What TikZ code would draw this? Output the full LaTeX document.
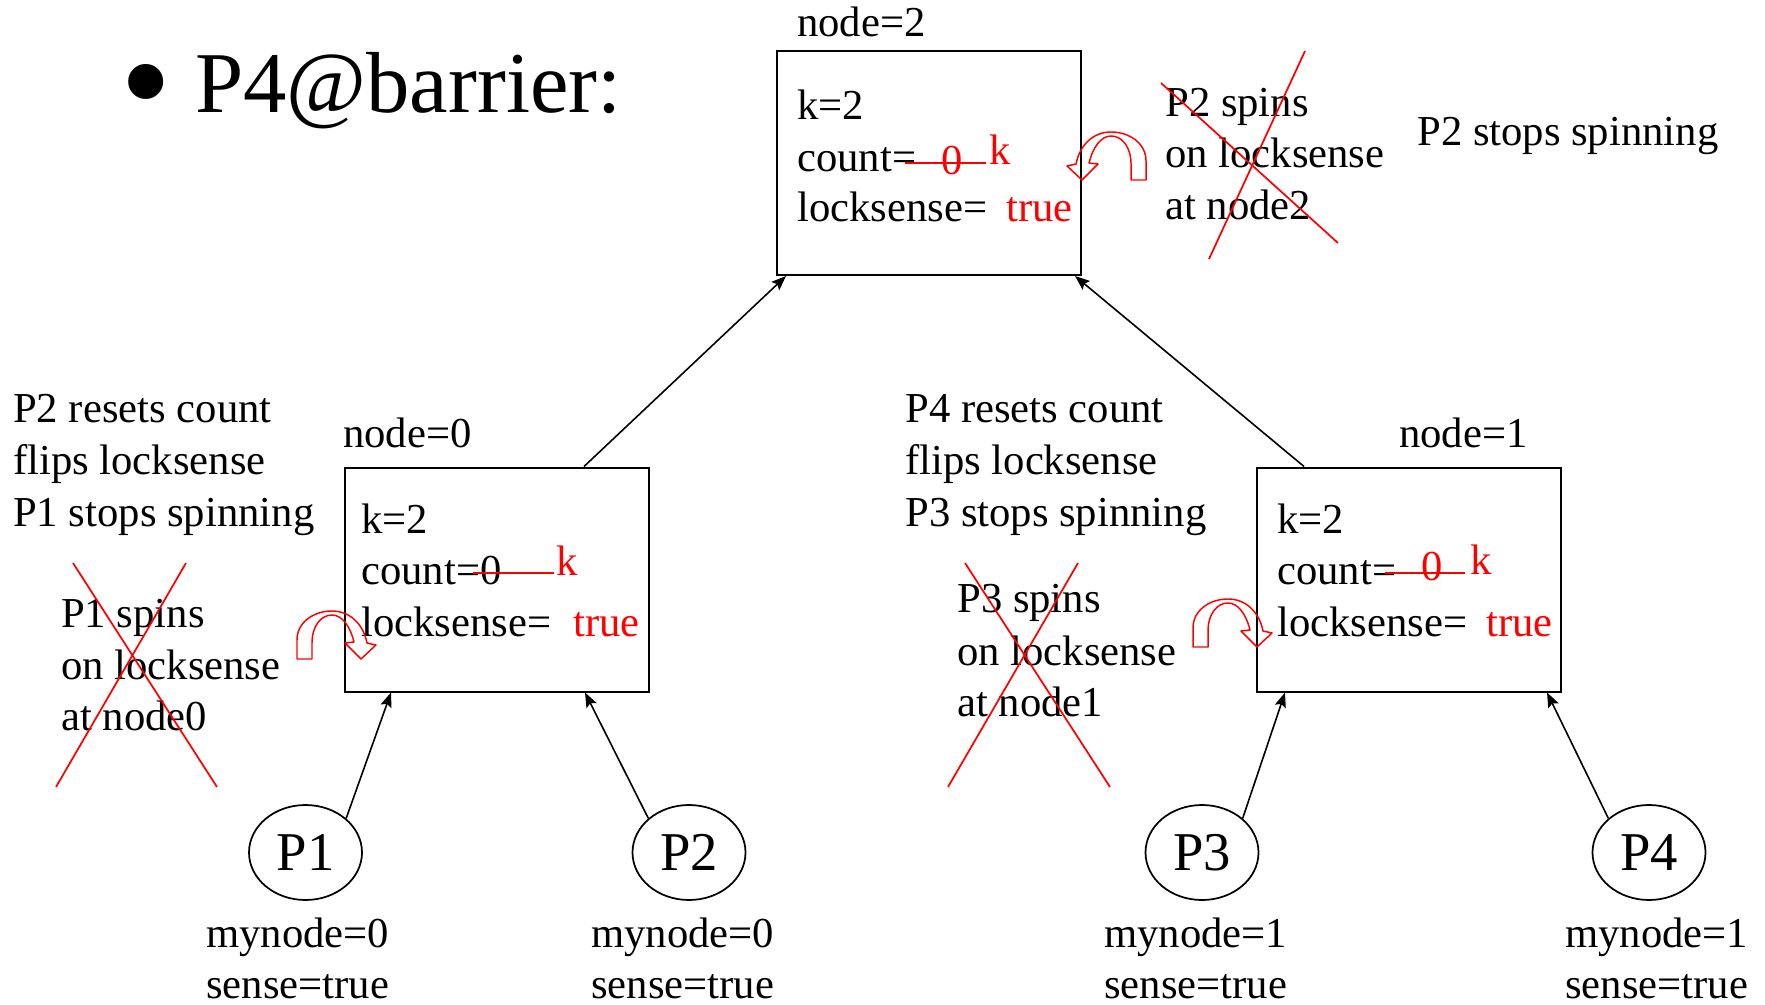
\documentclass[tikz,border=0pt]{standalone}
\usepackage{fontspec}
\setmainfont{Liberation Serif}
\usetikzlibrary{calc,shapes.geometric,arrows.meta}
\newcommand\bodyfont{\fontsize{32}{38}\selectfont}
\newcommand\titlefont{\fontsize{65}{78}\selectfont}
\newcommand\bulletfont{\fontsize{110}{120}\selectfont}
\newcommand\procfont{\fontsize{41}{49}\selectfont}
\begin{document}
\begin{tikzpicture}[x=0.75pt,y=-0.75pt,
  txt/.style={anchor=base west, inner sep=0pt, font=\bodyfont},
  redtxt/.style={txt, text=red},
  box/.style={draw, line width=1.5pt, minimum width=228pt, minimum height=168pt, inner sep=0pt},
  proc/.style={draw, ellipse, line width=1.3pt, minimum width=84.75pt, minimum height=71.25pt, inner sep=0pt, font=\procfont},
  link/.style={line width=1.2pt, -{Stealth[length=11pt,width=8.5pt,inset=2pt]}},
  redline/.style={red, line width=1.3pt},
  spinarrow/.pic={
    \draw[red, line width=1.1pt, line join=round]
      (0,0) -- (0,-19) .. controls (0,-37) and (17,-48) .. (35,-48)
      .. controls (52,-48) and (66,-36) .. (70,-16)
      -- (79,-14) -- (64,0) -- (48,-16) -- (57,-17)
      .. controls (53,-33) and (45,-44) .. (35,-44)
      .. controls (24,-44) and (15,-33) .. (15,-16) -- (15,0) -- cycle;
  }]
\useasboundingbox (0,0) rectangle (1765,1005);

% title
\node[anchor=base west, inner sep=0pt, font=\bulletfont] (bullet) at (120,131) {•};
\node[anchor=base west, inner sep=0pt, font=\titlefont] (title) at (195,113) {P4@barrier:};

% tree nodes
\node[box] (b2) at (929,163) {};
\node[box] (b0) at (497,579.5) {};
\node[box] (b1) at (1409,579.5) {};

% processors
\node[proc] (P1) at (305.5,852.5) {P1};
\node[proc] (P2) at (689,852.5) {P2};
\node[proc] (P3) at (1202,852.5) {P3};
\node[proc] (P4) at (1649,852.5) {P4};

% connectors
\draw[link] ($(b0.north west)+(240,0)$) -- ($(b2.south west)+(10,0)$);
\draw[link] ($(b1.north west)+(48,0)$) -- ($(b2.south east)+(-7,0)$);
\draw[link] (P1.40) -- ($(b0.south west)+(47,0)$);
\draw[link] (P2.140) -- ($(b0.south west)+(241,0)$);
\draw[link] (P3.40) -- ($(b1.south west)+(29,0)$);
\draw[link] (P4.140) -- ($(b1.south west)+(291,0)$);

% node=2 contents
\node[txt] (n2lab) at (797,37) {node=2};
\node[txt] (n2k) at (797,120) {k=2};
\node[txt] (n2c) at (797,172) {count=};
\node[txt] (n2l) at (797,222) {locksense=};
\node[redtxt] (n2zero) at (941,175) {0};
\node[redtxt] (n2kk) at (989,165) {k};
\node[redtxt] (n2true) at (1006,222) {true};
\draw[redline] (905,163) -- (986,163);
\pic[xscale=-1] at (1146,180) {spinarrow};

\node[txt] (s2a) at (1165,117) {P2 spins};
\node[txt] (s2b) at (1165,168) {on locksense};
\node[txt] (s2c) at (1165,220) {at node2};
\draw[redline] (1161,83) -- (1338,243);
\draw[redline] (1305,51) -- (1209,259);
\node[txt] (stop2) at (1417,146) {P2 stops spinning};

% node=0 contents
\node[txt] (n0lab) at (343,447) {node=0};
\node[txt] (n0k) at (361,533) {k=2};
\node[txt] (n0c) at (361,584) {count=0};
\node[txt] (n0l) at (361,636) {locksense=};
\node[redtxt] (n0kk) at (556,575) {k};
\node[redtxt] (n0true) at (573,636) {true};
\draw[redline] (473,573) -- (554,573);
\pic at (297,659) {spinarrow};

\node[txt] (r0a) at (13,422) {P2 resets count};
\node[txt] (r0b) at (13,474) {flips locksense};
\node[txt] (r0c) at (13,526) {P1 stops spinning};
\node[txt] (s0a) at (61,627) {P1 spins};
\node[txt] (s0b) at (61,679) {on locksense};
\node[txt] (s0c) at (61,730) {at node0};
\draw[redline] (73,563) -- (217,787);
\draw[redline] (186,563) -- (56,787);

% node=1 contents
\node[txt] (n1lab) at (1399,447) {node=1};
\node[txt] (n1k) at (1277,533) {k=2};
\node[txt] (n1c) at (1277,584) {count=};
\node[txt] (n1l) at (1277,636) {locksense=};
\node[redtxt] (n1zero) at (1421,580) {0};
\node[redtxt] (n1kk) at (1470,574) {k};
\node[redtxt] (n1true) at (1486,636) {true};
\draw[redline] (1385,573) -- (1465,573);
\pic at (1193,647) {spinarrow};

\node[txt] (r1a) at (905,422) {P4 resets count};
\node[txt] (r1b) at (905,474) {flips locksense};
\node[txt] (r1c) at (905,526) {P3 stops spinning};
\node[txt] (s1a) at (957,612) {P3 spins};
\node[txt] (s1b) at (957,665) {on locksense};
\node[txt] (s1c) at (957,716) {at node1};
\draw[redline] (965,563) -- (1110,787);
\draw[redline] (1078,563) -- (948,787);

% processor state
\node[txt] (m1) at (206,947) {mynode=0};
\node[txt] (e1) at (206,998) {sense=true};
\node[txt] (m2) at (591,947) {mynode=0};
\node[txt] (e2) at (591,998) {sense=true};
\node[txt] (m3) at (1104,947) {mynode=1};
\node[txt] (e3) at (1104,998) {sense=true};
\node[txt] (m4) at (1565,947) {mynode=1};
\node[txt] (e4) at (1565,998) {sense=true};
\end{tikzpicture}
\end{document}
